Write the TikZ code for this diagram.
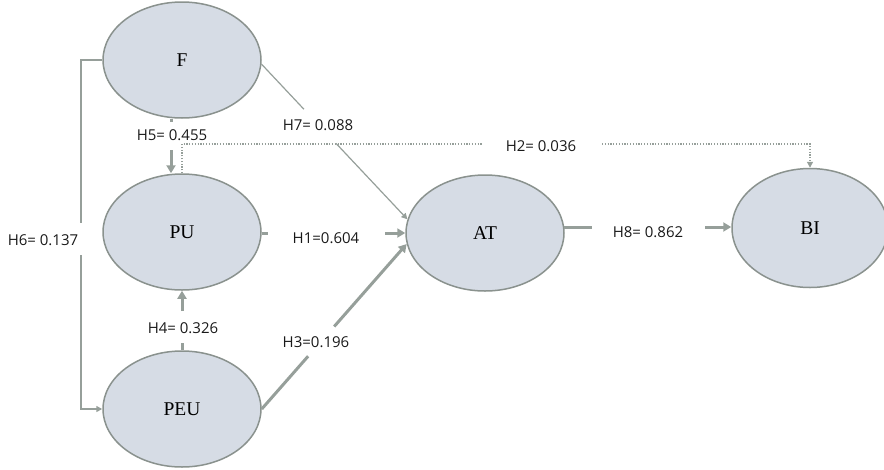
\documentclass[tikz,border=0pt]{standalone}
\usepackage{fontspec}
\setmainfont{Liberation Serif}
\newfontfamily\labfont{Open Sans}
\usetikzlibrary{shapes.geometric,arrows.meta,calc}
\definecolor{edgegray}{RGB}{150,159,154}
\definecolor{rimgray}{RGB}{138,146,142}
\definecolor{bubble}{RGB}{214,220,229}
\begin{document}
\begin{tikzpicture}[x=1pt,y=-1pt,
  construct/.style={ellipse, draw=rimgray, line width=1.5pt, fill=bubble,
    minimum width=158pt, minimum height=116pt, inner sep=0pt,
    font=\fontsize{19.5}{22}\selectfont},
  coef/.style={font=\labfont\fontsize{15}{18}\selectfont, inner sep=0pt, text=black!90},
  strong/.style={draw=edgegray, line width=3pt},
  weak/.style={draw=edgegray, line width=1.2pt},
  rail/.style={draw=edgegray, line width=1.6pt},
  faint/.style={draw=edgegray, line width=1.3pt, dash pattern=on 1.2pt off 1.6pt},
  bigtip/.style={-{Triangle[length=8pt,width=9pt]}},
  smalltip/.style={-{Triangle[length=6pt,width=6pt]}},
]
\useasboundingbox (0,0) rectangle (884,469);

% latent constructs
\node[construct] (F)   at (182,60)  {F};
\node[construct] (PU)  at (182,232) {PU};
\node[construct] (PEU) at (182,409) {PEU};
\node[construct] (AT)  at (485,233) {AT};
\node[construct, minimum width=156pt, minimum height=119pt] (BI) at (810,228) {BI};

% path coefficients
\node[coef] (h5) at (172,135) {H5= 0.455};
\node[coef] (h7) at (318,125) {H7= 0.088};
\node[coef] (h2) at (541,146) {H2= 0.036};
\node[coef] (h1) at (326,238) {H1=0.604};
\node[coef] (h8) at (648,232) {H8= 0.862};
\node[coef] (h3) at (316,342) {H3=0.196};
\node[coef] (h4) at (183,328) {H4= 0.326};
\node[coef] (h6) at (43,240)  {H6= 0.137};

% break points of the interrupted paths
\coordinate (h6a) at (81,223);
\coordinate (h6b) at (81,255);
\coordinate (h5a) at (171,122);
\coordinate (h5b) at (171,150);
\coordinate (h2y) at (182,144);
\coordinate (h2a) at (483,144);
\coordinate (h2b) at (602,144);
\coordinate (h1a) at (268,233);
\coordinate (h1b) at (385,233);
\coordinate (h4a) at (182,343);
\coordinate (h4b) at (182,311);
\coordinate (h8a) at (592,227);
\coordinate (h8b) at (705,227);

% H6: F -> PEU along the left rail
\draw[rail] (F.west) -- (F.west -| h6a) -- (h6a);
\draw[rail, smalltip] (h6b) -- (h6b |- PEU.west) -- (PEU.west);

% H5: F -> PU
\draw[strong] (h5a |- F.south) -- (h5a);
\draw[strong, bigtip] (h5b) -- (h5b |- PU.north);

% H2: PU -> BI (dotted)
\draw[faint] (PU.north) -- (h2y) -- (h2a);
\draw[faint, smalltip] (h2b) -- (h2b -| BI.north) -- (BI.north);

% H7: F -> AT
\draw[weak] (F.-3) -- ($(F.-3)!0.29!(AT.170)$);
\draw[weak, smalltip] ($(F.-3)!0.51!(AT.170)$) -- (AT.170);

% H1: PU -> AT
\draw[strong] (PU.east |- h1a) -- (h1a);
\draw[strong, bigtip] (h1b) -- (AT.west);

% H3: PEU -> AT
\draw[strong] (PEU.east) -- ($(PEU.east)!0.32!(AT.188)$);
\draw[strong, bigtip] ($(PEU.east)!0.50!(AT.188)$) -- (AT.188);

% H4: PEU -> PU
\draw[strong] (PEU.north) -- (h4a);
\draw[strong, bigtip] (h4b) -- (PU.south);

% H8: AT -> BI
\draw[strong] (AT.4) -- (AT.4 -| h8a);
\draw[strong, bigtip] (h8b) -- (h8b -| BI.west);
\end{tikzpicture}
\end{document}
